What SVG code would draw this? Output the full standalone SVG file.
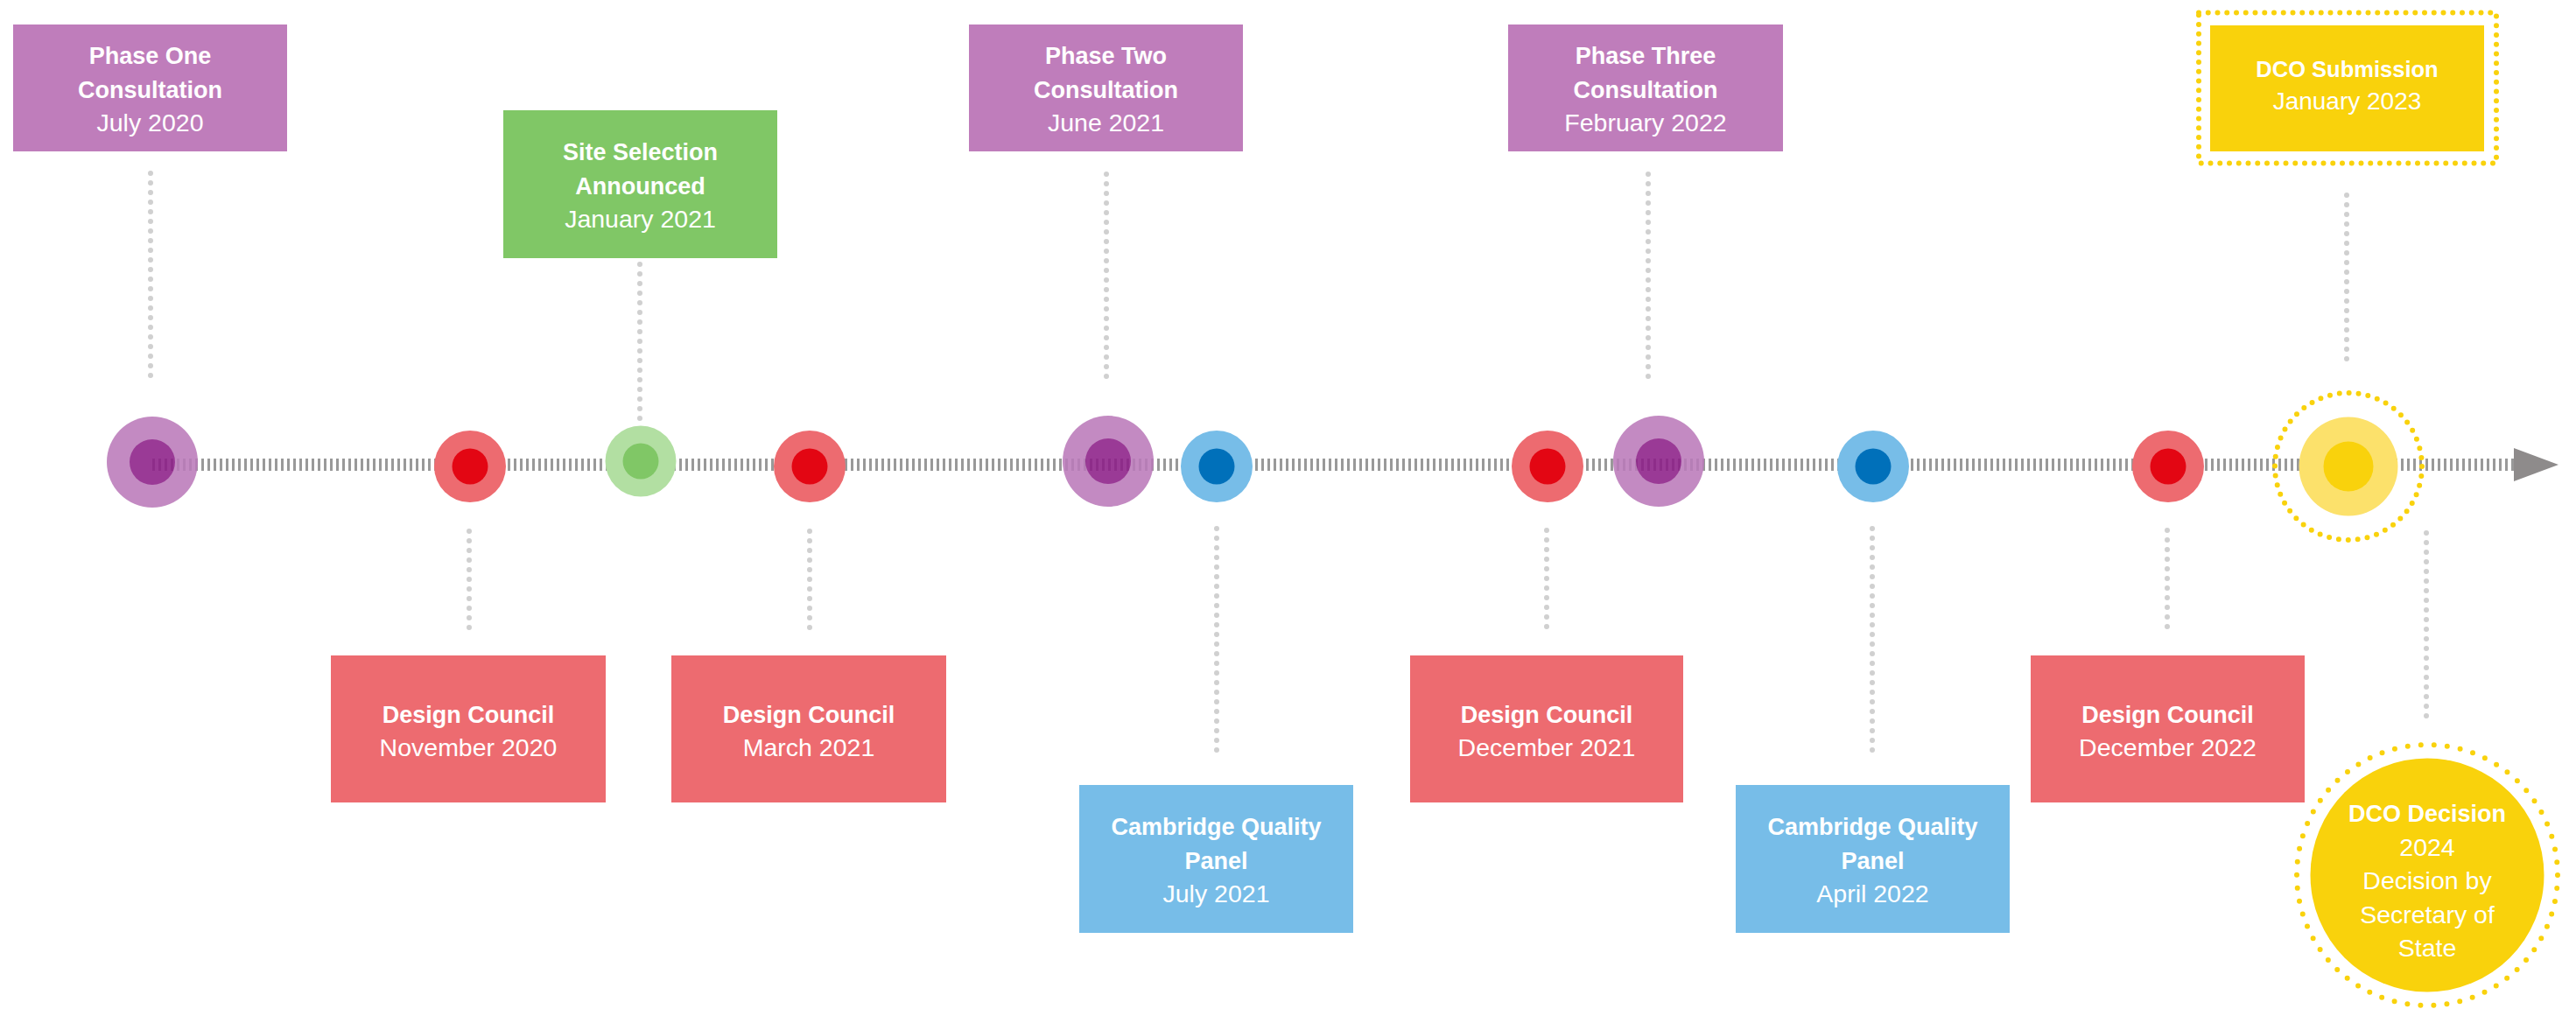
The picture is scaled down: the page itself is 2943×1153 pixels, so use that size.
<svg xmlns="http://www.w3.org/2000/svg" width="2943" height="1153" viewBox="0 0 2943 1153">
<style>
text{font-family:"Liberation Sans",Arial,sans-serif;fill:#fff;text-anchor:middle}
.b{font-weight:bold;font-size:27px}
.r{font-size:28.5px}
.pur{fill:#BF7DBB}.red{fill:#ED6B70}.grn{fill:#80C766}.blu{fill:#77BDE8}.yel{fill:#F9D20C}
.lead{stroke:#D0D0D0;stroke-width:6;stroke-linecap:round;stroke-dasharray:0 11;fill:none}
.ydot{fill:none;stroke:#F9D20C;stroke-width:6;stroke-linecap:round}
</style>
<defs>
<g id="mPur" opacity="0.88"><circle r="52" fill="#BB7BBA"/><circle r="26" fill="#8D1F88"/></g>
<g id="mRed"><circle r="41" fill="#ED6B70"/><circle r="20.5" fill="#E30613"/></g>
<g id="mBlu"><circle r="41" fill="#77BDE8"/><circle r="20.5" fill="#0070BA"/></g>
</defs>
<rect width="2943" height="1153" fill="#fff"/>
<g id="timeline">
<line x1="174" y1="531" x2="2874" y2="531" stroke="#999" stroke-width="14" stroke-dasharray="3 4"/>
<polygon points="2872,512 2923,531 2872,550" fill="#8E8B8B"/>
</g>
<g id="connectors">
<line class="lead" x1="172" y1="198" x2="172" y2="434"/>
<line class="lead" x1="536" y1="607" x2="536" y2="723"/>
<line class="lead" x1="731" y1="302" x2="731" y2="479"/>
<line class="lead" x1="925" y1="607" x2="925" y2="723"/>
<line class="lead" x1="1264" y1="199" x2="1264" y2="434"/>
<line class="lead" x1="1390" y1="604" x2="1390" y2="867"/>
<line class="lead" x1="1767" y1="606" x2="1767" y2="723"/>
<line class="lead" x1="1883" y1="199" x2="1883" y2="434"/>
<line class="lead" x1="2139" y1="604" x2="2139" y2="867"/>
<line class="lead" x1="2476" y1="606" x2="2476" y2="723"/>
<line class="lead" x1="2681" y1="223" x2="2681" y2="411"/>
<line class="lead" x1="2772" y1="609" x2="2772" y2="823"/>
</g>
<g id="phase-one">
<rect class="pur" x="15" y="28" width="313" height="145"/>
<text class="b" x="171.5" y="73">Phase One</text>
<text class="b" x="171.5" y="112">Consultation</text>
<text class="r" x="171.5" y="150">July 2020</text>
<use href="#mPur" x="174" y="528"/>
</g>
<g id="design-council-nov-2020">
<rect class="red" x="378" y="749" width="314" height="168"/>
<text class="b" x="535" y="826">Design Council</text>
<text class="r" x="535" y="864">November 2020</text>
<use href="#mRed" x="537" y="533"/>
</g>
<g id="site-selection">
<rect class="grn" x="575" y="126" width="313" height="169"/>
<text class="b" x="731.5" y="183">Site Selection</text>
<text class="b" x="731.5" y="222">Announced</text>
<text class="r" x="731.5" y="260">January 2021</text>
<circle cx="732" cy="527" r="40.5" fill="#B2DFA2"/>
<circle cx="732" cy="527" r="20.5" fill="#80C766"/>
</g>
<g id="design-council-mar-2021">
<rect class="red" x="767" y="749" width="314" height="168"/>
<text class="b" x="924" y="826">Design Council</text>
<text class="r" x="924" y="864">March 2021</text>
<use href="#mRed" x="925" y="533"/>
</g>
<g id="phase-two">
<rect class="pur" x="1107" y="28" width="313" height="145"/>
<text class="b" x="1263.5" y="73">Phase Two</text>
<text class="b" x="1263.5" y="112">Consultation</text>
<text class="r" x="1263.5" y="150">June 2021</text>
<use href="#mPur" x="1266" y="527"/>
</g>
<g id="cqp-jul-2021">
<rect class="blu" x="1233" y="897" width="313" height="169"/>
<text class="b" x="1389.5" y="954">Cambridge Quality</text>
<text class="b" x="1389.5" y="993">Panel</text>
<text class="r" x="1389.5" y="1031">July 2021</text>
<use href="#mBlu" x="1390" y="533"/>
</g>
<g id="design-council-dec-2021">
<rect class="red" x="1611" y="749" width="312" height="168"/>
<text class="b" x="1767" y="826">Design Council</text>
<text class="r" x="1767" y="864">December 2021</text>
<use href="#mRed" x="1768" y="533"/>
</g>
<g id="phase-three">
<rect class="pur" x="1723" y="28" width="314" height="145"/>
<text class="b" x="1880" y="73">Phase Three</text>
<text class="b" x="1880" y="112">Consultation</text>
<text class="r" x="1880" y="150">February 2022</text>
<use href="#mPur" x="1895" y="527"/>
</g>
<g id="cqp-apr-2022">
<rect class="blu" x="1983" y="897" width="313" height="169"/>
<text class="b" x="2139.5" y="954">Cambridge Quality</text>
<text class="b" x="2139.5" y="993">Panel</text>
<text class="r" x="2139.5" y="1031">April 2022</text>
<use href="#mBlu" x="2140" y="533"/>
</g>
<g id="design-council-dec-2022">
<rect class="red" x="2320" y="749" width="313" height="168"/>
<text class="b" x="2476.5" y="826">Design Council</text>
<text class="r" x="2476.5" y="864">December 2022</text>
<use href="#mRed" x="2477" y="533"/>
</g>
<g id="dco-submission">
<rect class="ydot" x="2512" y="14.5" width="340" height="172" stroke-dasharray="0 10.75"/>
<rect class="yel" x="2525" y="29" width="313" height="144"/>
<text x="2681.5" y="88" style="font-weight:bold;font-size:25.5px">DCO Submission</text>
<text class="r" x="2681.5" y="125" style="font-size:28px">January 2023</text>
<circle class="ydot" cx="2683" cy="533" r="84" stroke-dasharray="0 10.996"/>
<circle cx="2683" cy="533" r="56.5" fill="#FCE16B"/>
<circle cx="2683" cy="533" r="28.5" fill="#F9D20C"/>
</g>
<g id="dco-decision">
<circle class="ydot" cx="2773" cy="1000" r="149" stroke-width="7" stroke-dasharray="0 15.1"/>
<circle cx="2773" cy="1000" r="133.5" fill="#F9D20C"/>
<text class="b" x="2773" y="939">DCO Decision</text>
<text class="r" x="2773" y="977.5">2024</text>
<text class="r" x="2773" y="1016">Decision by</text>
<text class="r" x="2773" y="1054.5">Secretary of</text>
<text class="r" x="2773" y="1093">State</text>
</g>
</svg>
